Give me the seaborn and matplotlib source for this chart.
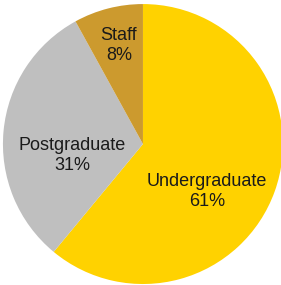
import matplotlib
matplotlib.use('Agg')
from matplotlib import pyplot as plt
import seaborn as sns

categories = ['Undergraduate', 'Postgraduate', 'Staff']
shares = [61, 31, 8]
colours = ['#FFD200', '#BFBFBF', '#CC9A2E']

sns.set_style('white')
plt.rcParams['font.family'] = ['Liberation Sans', 'DejaVu Sans']

fig = plt.figure(figsize=(2.81, 2.85), dpi=100)
ax = fig.add_axes([0, 0, 1, 1])

wedges, _ = ax.pie(shares, colors=colours, startangle=90, counterclock=False,
                   wedgeprops={'linewidth': 0})

# label spots inside each slice (axes fraction), like the Excel best-fit layout
label_pos = [(0.737, 0.327), (0.256, 0.455), (0.423, 0.84)]
for name, val, (x, y) in zip(categories, shares, label_pos):
    ax.text(x, y, f'{name}\n{val}%', transform=ax.transAxes,
            ha='center', va='center', fontsize=13, color='#1a1a1a',
            linespacing=1.22)

ax.set_aspect('auto')
ax.set_xlim(-1.021, 0.986)
ax.set_ylim(-1.007, 1.029)
ax.axis('off')

plt.savefig('out.png', dpi=100)
